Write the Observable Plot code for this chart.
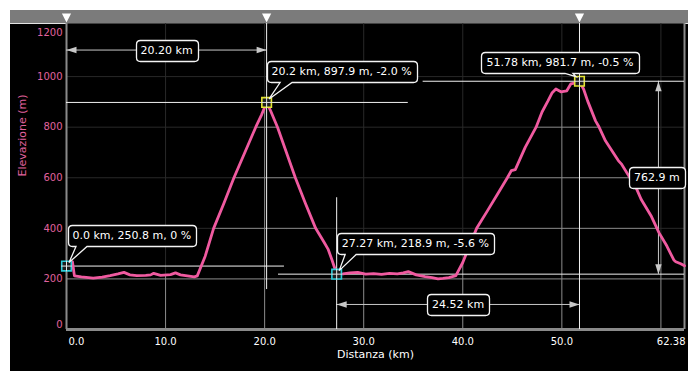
<!DOCTYPE html>
<html>
<head>
<meta charset="utf-8">
<script src="https://cdn.jsdelivr.net/npm/d3@7"></script>
<script src="https://cdn.jsdelivr.net/npm/@observablehq/plot@0.6"></script>
<style>
  html, body { margin: 0; padding: 0; background: #fff; }
  #wrap { position: relative; width: 698px; height: 381px; background: #fff; overflow: hidden; }
  #panel { position: absolute; left: 10px; top: 10px; width: 678px; height: 361px; background: #000; }
  #bar { position: absolute; left: 10px; top: 10px; width: 678px; height: 13px; background: #7b7b7b; border-bottom: 1px solid #e4e4e4; }
  #chart { position: absolute; left: 0; top: 0; }
</style>
</head>
<body>
<div id="wrap"><div id="panel"></div><div id="bar"></div><div id="chart"></div></div>
<script>
// ---- profile data (distance km, elevation m) ----
const dist = [0, 0.6, 0.8, 1.5, 2.7, 3.6, 4.4, 5.2, 5.8, 6.4, 7.1, 8.0, 8.5, 8.8, 9.5, 10.5, 11.0, 11.5, 12.2, 12.9,
  13.2, 14.0, 14.85, 15.9, 16.9, 18.0, 19.1, 19.7, 20.2, 20.6, 21.3, 22.2, 23.1, 24.1, 25.15, 26.0, 26.4, 26.8, 27.27,
  27.9, 28.6, 29.4, 30.2, 31.0, 31.8, 32.6, 33.4, 34.0, 34.5, 35.3, 36.2, 36.9, 37.5, 38.0, 38.6, 39.3,
  40.0, 40.6, 41.4, 42.5, 43.5, 44.5, 44.9, 45.3, 46.3, 47.4, 48.0, 48.6, 49.0, 49.4, 49.9, 50.5, 50.9, 51.4, 51.78,
  52.2, 52.6, 53.4, 53.7, 54.4, 55.5, 55.7, 56.0, 57.5, 58.0, 59.0, 59.8, 60.6, 61.3, 61.5, 62.0, 62.38];
const elev = [250.8, 268, 212, 208, 203, 207, 213, 220, 226, 216, 213, 214, 216, 222, 214, 217, 224, 216, 212, 208,
  212, 290, 400, 500, 600, 700, 800, 850, 897.9, 865, 800, 700, 600, 500, 400, 345, 318, 275, 218.9,
  220, 224, 226, 219, 221, 218, 222, 220, 224, 229, 216, 209, 205, 200, 202, 205, 213,
  265, 324, 400, 470, 535, 600, 628, 632, 720, 800, 860, 904, 935, 951, 940, 944, 971, 975, 981.7,
  950, 904, 825, 805, 746, 680, 668, 655, 560, 515, 450, 383, 330, 275, 268, 260, 252];

// ---- markers ----
const markerDist = [0, 20.2, 27.27, 51.78];
const markerElev = [250.8, 897.9, 218.9, 981.7];
const markerText = ["0.0 km, 250.8 m, 0 %", "20.2 km, 897.9 m, -2.0 %", "27.27 km, 218.9 m, -5.6 %", "51.78 km, 981.7 m, -0.5 %"];
const guideHFrom = [0, 0, 21.4, 36.0];
const guideHTo = [22.0, 34.5, 62.38, 62.38];
const guideVFrom = [null, 158, 0, 0];
const guideVTo = [null, 1210, 521, 1210];
const flagDist = [0, 20.2, 51.78];

// ---- dimensions ----
const spanLabel = ["20.20 km", "24.52 km"];
const spanFrom = [0, 27.27];
const spanTo = [20.2, 51.78];
const spanAt = [1105, 99];
const riseLabel = ["762.9 m"];
const riseFrom = [218.9];
const riseTo = [981.7];
const riseAt = [59.75];

// ---- axes ----
const xTickValues = [0, 10, 20, 30, 40, 50, 62.38];
const xTickLabels = ["0.0", "10.0", "20.0", "30.0", "40.0", "50.0", "62.38"];
const xGrid = [10, 20, 30, 40, 50, 60];
const yTickValues = [0, 200, 400, 600, 800, 1000, 1200];
const yGrid = [200, 400, 600, 800, 1000];
const xDomain = [0, 62.38];
const yDomain = [0, 1210];

// ---- styles ----
const PINK = "#f05aa0";
const PINK_LABEL = "#e0629e";
const CYAN = "#2ccbd8";
const YELLOW = "#e4e432";
const markerColor = [CYAN, YELLOW, CYAN, YELLOW];
const GRID = "#8c8c8c";
const AXIS = "#8a8a8a";
const DIM = "#c8c8c8";

const profile = dist.map((d, i) => ({d, e: elev[i]}));
const mIdx = markerDist.map((_, i) => i);
const vIdx = mIdx.filter(i => guideVFrom[i] != null);
const sIdx = spanLabel.map((_, i) => i);
const rIdx = riseLabel.map((_, i) => i);
const xFmt = v => xTickLabels[xTickValues.indexOf(v)];
const yFmt = v => String(v);

const headUp = {draw(ctx) { ctx.moveTo(0, 0); ctx.lineTo(3.2, 10); ctx.lineTo(-3.2, 10); ctx.closePath(); }};
const flagUp = {draw(ctx) { ctx.moveTo(0, 0); ctx.lineTo(4.6, 9); ctx.lineTo(-4.6, 9); ctx.closePath(); }};

const calloutStyle = [
  {anchor: "start", dx: 6, dy: -31},
  {anchor: "start", dx: 5, dy: -31},
  {anchor: "start", dx: 5, dy: -31},
  {anchor: "middle", dx: -19.5, dy: -19}
];

const marks = [
  Plot.ruleX(xGrid, {x: d => d, stroke: GRID, strokeWidth: 1}),
  Plot.ruleY(yGrid, {y: d => d, stroke: GRID, strokeWidth: 1}),
  Plot.areaY(profile, {x: "d", y1: "e", y2: () => yDomain[1], fill: "#000", fillOpacity: 0.71}),
  Plot.ruleX([xDomain[0]], {x: d => d, stroke: AXIS, strokeWidth: 2}),
  Plot.ruleX([xDomain[1]], {x: d => d, stroke: AXIS, strokeWidth: 2}),
  Plot.ruleY([0], {y: d => d, stroke: AXIS, strokeWidth: 3}),
  Plot.ruleY(sIdx, {y: i => spanAt[i], x1: i => spanFrom[i], x2: i => spanTo[i], stroke: DIM, strokeWidth: 1}),
  Plot.dot(sIdx, {x: i => spanFrom[i], y: i => spanAt[i], symbol: headUp, rotate: -90, fill: DIM, stroke: "none"}),
  Plot.dot(sIdx, {x: i => spanTo[i], y: i => spanAt[i], symbol: headUp, rotate: 90, fill: DIM, stroke: "none"}),
  Plot.ruleX(rIdx, {x: i => riseAt[i], y1: i => riseFrom[i], y2: i => riseTo[i], stroke: DIM, strokeWidth: 1}),
  Plot.dot(rIdx, {x: i => riseAt[i], y: i => riseTo[i], symbol: headUp, rotate: 0, fill: DIM, stroke: "none"}),
  Plot.dot(rIdx, {x: i => riseAt[i], y: i => riseFrom[i], symbol: headUp, rotate: 180, fill: DIM, stroke: "none"}),
  Plot.ruleY(mIdx, {y: i => markerElev[i], x1: i => guideHFrom[i], x2: i => guideHTo[i], stroke: "#f2f2f2", strokeWidth: 1}),
  Plot.ruleX(vIdx, {x: i => markerDist[i], y1: i => guideVFrom[i], y2: i => guideVTo[i], stroke: "#f2f2f2", strokeWidth: 1}),
  Plot.line(profile, {x: "d", y: "e", stroke: PINK, strokeWidth: 2.8, strokeLinejoin: "round"}),
  Plot.dot(mIdx, {x: i => markerDist[i], y: i => markerElev[i], symbol: "square", r: 5.4, fill: "#1c1c1c", stroke: i => markerColor[i], strokeWidth: 1.6}),
  Plot.dot(mIdx, {x: i => markerDist[i], y: i => markerElev[i], symbol: "plus", r: 3.5, stroke: "#e8e8e8", strokeWidth: 1}),
  Plot.dot(flagDist, {x: d => d, frameAnchor: "top", dy: -1, symbol: flagUp, rotate: 180, fill: "#fff", stroke: "none"}),
  Plot.axisY(yTickValues.slice(1, -1), {tickSize: 0, tickPadding: 4, tickFormat: yFmt, color: PINK_LABEL, fontSize: 10, label: null}),
  Plot.axisY([yTickValues[0]], {tickSize: 0, tickPadding: 4, tickFormat: yFmt, color: PINK_LABEL, fontSize: 10, label: null, dy: -4.5}),
  Plot.axisY([yTickValues[yTickValues.length - 1]], {tickSize: 0, tickPadding: 4, tickFormat: yFmt, color: PINK_LABEL, fontSize: 10, label: null, dy: 7}),
  Plot.axisX(xTickValues.slice(1, -1), {tickSize: 0, tickPadding: 8, tickFormat: xFmt, color: "#fff", fontSize: 10, label: null}),
  Plot.axisX([xTickValues[0]], {tickSize: 0, tickPadding: 8, tickFormat: xFmt, color: "#fff", fontSize: 10, label: null, textAnchor: "start", dx: 2}),
  Plot.axisX([xTickValues[xTickValues.length - 1]], {tickSize: 0, tickPadding: 8, tickFormat: xFmt, color: "#fff", fontSize: 10, label: null, textAnchor: "end", dx: 1}),
  Plot.text(["Elevazione (m)"], {text: d => d, frameAnchor: "left", rotate: -90, dx: -44, fill: PINK_LABEL, fontSize: 11}),
  Plot.text(["Distanza (km)"], {text: d => d, frameAnchor: "bottom", dy: 28, fill: "#fff", fontSize: 11}),
  Plot.text(sIdx, {x: i => (spanFrom[i] + spanTo[i]) / 2, y: i => spanAt[i], text: i => spanLabel[i], fill: "#fff", fontSize: 11}),
  Plot.text(rIdx, {x: i => riseAt[i], y: i => (riseFrom[i] + riseTo[i]) / 2, text: i => riseLabel[i], dx: -1.5, fill: "#fff", fontSize: 11}),
  ...mIdx.map(i => Plot.text([i], {
    x: j => markerDist[j], y: j => markerElev[j], text: j => markerText[j],
    textAnchor: calloutStyle[i].anchor, dx: calloutStyle[i].dx, dy: calloutStyle[i].dy,
    fill: "#fff", fontSize: 11
  }))
];

const plot = Plot.plot({
  width: 698, height: 381,
  marginLeft: 66, marginRight: 14, marginTop: 23, marginBottom: 52,
  x: {domain: xDomain},
  y: {domain: yDomain},
  style: {background: "transparent", fontFamily: "'DejaVu Sans', Verdana, sans-serif", fontSize: "11px", color: "#fff", overflow: "visible"},
  marks
});
document.getElementById("chart").appendChild(plot);

// ---- rounded label boxes (with optional callout tail) ----
const NS = "http://www.w3.org/2000/svg";
function boxPath(x0, y0, x1, y1, r, tail) {
  let p = `M${x0 + r},${y0}H${x1 - r}Q${x1},${y0} ${x1},${y0 + r}V${y1 - r}Q${x1},${y1} ${x1 - r},${y1}`;
  if (tail) p += `H${tail.b1}L${tail.tx},${tail.ty}L${tail.b0},${y1}`;
  p += `H${x0 + r}Q${x0},${y1} ${x0},${y1 - r}V${y0 + r}Q${x0},${y0} ${x0 + r},${y0}Z`;
  return p;
}
let sx = v => 66 + (v - xDomain[0]) / (xDomain[1] - xDomain[0]) * 618;
let sy = v => 329 - (v - yDomain[0]) / (yDomain[1] - yDomain[0]) * 306;
try {
  const xs = plot.scale("x"), ys = plot.scale("y");
  if (xs && xs.apply) sx = v => xs.apply(v);
  if (ys && ys.apply) sy = v => ys.apply(v);
} catch (e) {}
const allTexts = Array.from(plot.querySelectorAll("text"));
function topChild(el) { while (el.parentNode && el.parentNode !== plot) el = el.parentNode; return el; }
function boxify(label, tail) {
  const sRect = plot.getBoundingClientRect();
  const t = allTexts.find(t => t.textContent === label);
  if (!t) return;
  const r = t.getBoundingClientRect();
  const x0 = Math.round(r.left - sRect.left - 5) + 0.5, x1 = Math.round(r.right - sRect.left + 5) + 0.5;
  const y0 = Math.round(r.top - sRect.top - 4) + 0.5, y1 = Math.round(r.bottom - sRect.top + 4) + 0.5;
  const path = document.createElementNS(NS, "path");
  path.setAttribute("d", boxPath(x0, y0, x1, y1, 4, tail));
  path.setAttribute("fill", "#000");
  path.setAttribute("stroke", "#f4f4f4");
  path.setAttribute("stroke-width", "1.3");
  plot.insertBefore(path, topChild(t));
}
spanLabel.forEach(l => boxify(l));
riseLabel.forEach(l => boxify(l));
const tailTip = [[3, -3], [3, -3], [3, -3], [-3, -4]];
const tailBase = [[7, 18], [11, 23], [6, 17], [-11, -3]];
mIdx.forEach(i => {
  const tx = sx(markerDist[i]) + tailTip[i][0];
  const ty = sy(markerElev[i]) + tailTip[i][1];
  boxify(markerText[i], {tx, ty, b0: tx + tailBase[i][0], b1: tx + tailBase[i][1]});
});
</script>
</body>
</html>
